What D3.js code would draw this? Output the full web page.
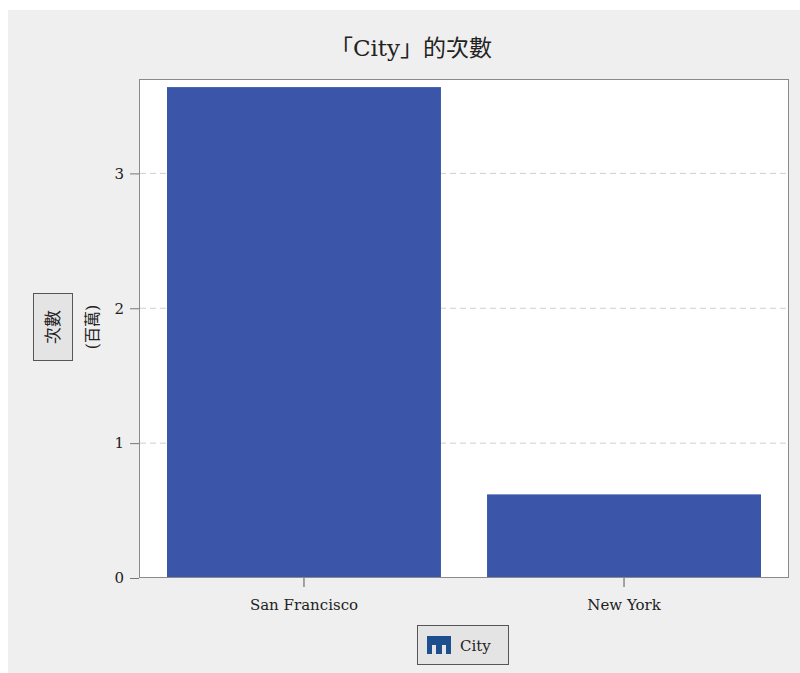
<!DOCTYPE html>
<html>
<head>
<meta charset="utf-8">
<script src="https://cdn.jsdelivr.net/npm/d3@7"></script>
<style>
  body { margin: 0; background: #fff; }
  svg { display: block; }
  .tick text { font-family: "DejaVu Serif", "Noto Sans CJK TC", serif; font-size: 15px; fill: #222; }
  .grid line { stroke: #cfcfcf; stroke-dasharray: 6,4; }
</style>
</head>
<body>
<div id="chart"></div>
<script>
// data (values in millions)
var cities = ["San Francisco", "New York"];
var counts = [3.64, 0.62];
var yTicks = [0, 1, 2, 3];

var width = 800, height = 673;
var plot = { left: 139, right: 789, top: 79, bottom: 578 };
var cjkFont = '"DejaVu Serif", "Noto Sans CJK TC", serif';
var barColor = "#3b56a9";

var svg = d3.select("#chart").append("svg")
  .attr("width", width)
  .attr("height", height);

// gray panel
svg.append("rect")
  .attr("x", 8).attr("y", 10)
  .attr("width", width - 8).attr("height", height - 10)
  .attr("fill", "#efefef");

var x = d3.scaleBand()
  .domain(cities)
  .range([plot.left, plot.right])
  .paddingInner(0.144)
  .paddingOuter(0.0875);

var y = d3.scaleLinear()
  .domain([0, 3.7])
  .range([plot.bottom, plot.top]);

// plot background
svg.append("rect")
  .attr("x", plot.left).attr("y", plot.top)
  .attr("width", plot.right - plot.left)
  .attr("height", plot.bottom - plot.top)
  .attr("fill", "#fff");

// gridlines
svg.append("g").attr("class", "grid")
  .selectAll("line")
  .data(yTicks.filter(function(d) { return d > 0; }))
  .enter().append("line")
  .attr("x1", plot.left + 1).attr("x2", plot.right)
  .attr("y1", function(d) { return y(d); })
  .attr("y2", function(d) { return y(d); });

// bars
svg.append("g").selectAll("rect")
  .data(cities)
  .enter().append("rect")
  .attr("x", function(d) { return x(d); })
  .attr("y", function(d, i) { return y(counts[i]); })
  .attr("width", x.bandwidth())
  .attr("height", function(d, i) { return y(0) - y(counts[i]); })
  .attr("fill", barColor);

// frame
svg.append("rect")
  .attr("x", plot.left + 0.5).attr("y", plot.top + 0.5)
  .attr("width", plot.right - plot.left - 1)
  .attr("height", plot.bottom - plot.top - 1)
  .attr("fill", "none")
  .attr("stroke", "#8a8a8a");

// axes
var yAxis = svg.append("g")
  .attr("transform", "translate(" + plot.left + ",0)")
  .call(d3.axisLeft(y).tickValues(yTicks).tickFormat(d3.format("d")).tickSize(9).tickPadding(6));
yAxis.select(".domain").remove();
yAxis.selectAll(".tick line").attr("stroke", "#777");

var xAxis = svg.append("g")
  .attr("transform", "translate(0," + plot.bottom + ")")
  .call(d3.axisBottom(x).tickSize(9).tickPadding(12));
xAxis.select(".domain").remove();
xAxis.selectAll(".tick line").attr("stroke", "#555");

// title
svg.append("text")
  .attr("x", 411).attr("y", 56)
  .attr("text-anchor", "middle")
  .style("font-family", cjkFont)
  .style("font-size", "23px")
  .attr("fill", "#222")
  .text("「City」的次數");

// y axis label box
svg.append("rect")
  .attr("x", 33.5).attr("y", 293.5)
  .attr("width", 39).attr("height", 67)
  .attr("fill", "#e4e4e4")
  .attr("stroke", "#555");
svg.append("text")
  .attr("transform", "translate(59,327) rotate(-90)")
  .attr("text-anchor", "middle")
  .style("font-family", cjkFont)
  .style("font-size", "17px")
  .attr("fill", "#222")
  .text("次數");
svg.append("text")
  .attr("transform", "translate(98,327) rotate(-90)")
  .attr("text-anchor", "middle")
  .style("font-family", cjkFont)
  .style("font-size", "16px")
  .attr("fill", "#222")
  .text("(百萬)");

// legend
var legend = svg.append("g").attr("transform", "translate(417,625)");
legend.append("rect")
  .attr("x", 0.5).attr("y", 0.5)
  .attr("width", 91).attr("height", 39)
  .attr("fill", "#e4e4e4")
  .attr("stroke", "#555");
legend.append("rect")
  .attr("x", 10).attr("y", 11)
  .attr("width", 24).attr("height", 18)
  .attr("fill", "#1d4f8e");
legend.append("rect").attr("x", 15).attr("y", 20).attr("width", 4).attr("height", 9).attr("fill", "#e4e4e4");
legend.append("rect").attr("x", 25).attr("y", 20).attr("width", 4).attr("height", 9).attr("fill", "#e4e4e4");
legend.append("text")
  .attr("x", 43).attr("y", 26)
  .style("font-family", cjkFont)
  .style("font-size", "15px")
  .attr("fill", "#222")
  .text("City");
</script>
</body>
</html>
